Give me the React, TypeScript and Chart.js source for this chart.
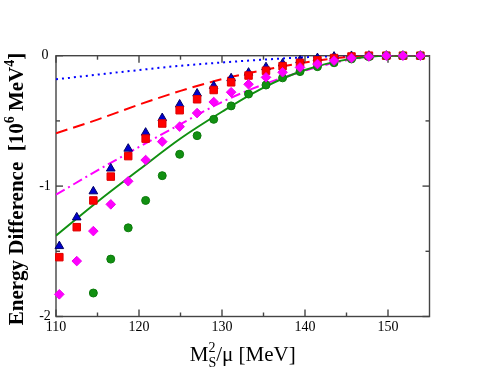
import React, { useEffect, useRef } from 'react';
import { Chart, registerables } from 'chart.js';

Chart.register(...registerables);

// ---- axis setup ----
const xMin = 110;
const xMax = 155;
const yMin = -2;
const yMax = 0;
const xMajorTicks = [110, 120, 130, 140, 150];
const xMinorTicks = [115, 125, 135, 145];
const yMajorTicks = [0, -1, -2];
const yMinorTicks = [-0.5, -1.5];
const xTickLabels = ['110', '120', '130', '140', '150'];
const yTickLabels = ['0', '-1', '-2'];

// ---- curves ----
const curveX = [110, 115, 120, 125, 130, 135, 140, 145, 150, 155];
const blueDotted = [-0.181, -0.145, -0.11, -0.077, -0.052, -0.03, -0.012, -0.002, 0, 0];
const redDashed = [-0.595, -0.49, -0.375, -0.27, -0.18, -0.11, -0.052, -0.012, 0, 0];
const magentaDashDot = [-1.065, -0.88, -0.7, -0.525, -0.355, -0.22, -0.115, -0.035, 0, 0];
const greenSolid = [-1.38, -1.12, -0.875, -0.635, -0.43, -0.245, -0.11, -0.03, 0, 0];

// ---- symbols ----
const pointX = [110.4, 112.5, 114.5, 116.6, 118.7, 120.8, 122.8, 124.9, 127.0, 129.0, 131.1,
  133.2, 135.3, 137.3, 139.4, 141.5, 143.5, 145.6, 147.7, 149.8, 151.8, 153.9];
const blueTriangles = [-1.46, -1.24, -1.04, -0.865, -0.713, -0.59, -0.478, -0.374, -0.29, -0.232, -0.173,
  -0.13, -0.088, -0.06, -0.035, -0.018, -0.007, -0.002, 0, 0, 0, 0];
const redSquares = [-1.545, -1.315, -1.11, -0.927, -0.77, -0.636, -0.52, -0.418, -0.334, -0.263, -0.204,
  -0.152, -0.115, -0.08, -0.055, -0.035, -0.018, -0.006, 0, 0, 0, 0];
const magentaDiamonds = [-1.83, -1.575, -1.345, -1.14, -0.963, -0.8, -0.659, -0.544, -0.44, -0.355, -0.28,
  -0.219, -0.166, -0.127, -0.09, -0.064, -0.038, -0.018, -0.006, 0, 0, 0];
const greenCircles = [null, null, -1.82, -1.56, -1.32, -1.11, -0.92, -0.756, -0.613, -0.488, -0.385,
  -0.294, -0.225, -0.17, -0.122, -0.084, -0.054, -0.025, -0.008, 0, 0, 0];

const SERIF = '"Liberation Serif", "Times New Roman", serif';

const toXY = (xs: number[], ys: (number | null)[]) =>
  xs.map((x, i) => ({ x, y: ys[i] })).filter((p) => p.y !== null);

type Seg = { t: string; size: number; dy: number; bold?: boolean; stackWithNext?: boolean };

function drawSegments(ctx: CanvasRenderingContext2D, segs: Seg[], cx: number, baseY: number) {
  // measure
  const widths: number[] = [];
  segs.forEach((s) => {
    ctx.font = `${s.bold ? 'bold ' : ''}${s.size}px ${SERIF}`;
    widths.push(ctx.measureText(s.t).width);
  });
  let total = 0;
  for (let i = 0; i < segs.length; i++) {
    if (segs[i].stackWithNext) {
      total += Math.max(widths[i], widths[i + 1]);
      i++;
    } else total += widths[i];
  }
  let x = cx - total / 2;
  ctx.textAlign = 'left';
  ctx.textBaseline = 'alphabetic';
  for (let i = 0; i < segs.length; i++) {
    const s = segs[i];
    ctx.font = `${s.bold ? 'bold ' : ''}${s.size}px ${SERIF}`;
    ctx.fillText(s.t, x, baseY + s.dy);
    if (s.stackWithNext) {
      const n = segs[i + 1];
      ctx.font = `${n.bold ? 'bold ' : ''}${n.size}px ${SERIF}`;
      ctx.fillText(n.t, x, baseY + n.dy);
      x += Math.max(widths[i], widths[i + 1]);
      i++;
    } else {
      x += widths[i];
    }
  }
}

const framePlugin = {
  id: 'frameTicks',
  beforeDatasetsDraw(chart: any) {
    const { ctx, chartArea: a, scales } = chart;
    const xs = scales.x;
    const ys = scales.y;
    ctx.save();
    ctx.strokeStyle = '#444';
    ctx.lineWidth = 1.4;
    ctx.strokeRect(a.left, a.top, a.right - a.left, a.bottom - a.top);
    const seg = (x1: number, y1: number, x2: number, y2: number) => {
      ctx.beginPath();
      ctx.moveTo(x1, y1);
      ctx.lineTo(x2, y2);
      ctx.stroke();
    };
    const major = 7;
    const minor = 4;
    xMajorTicks.forEach((v) => {
      const p = xs.getPixelForValue(v);
      seg(p, a.bottom, p, a.bottom - major);
      seg(p, a.top, p, a.top + major);
    });
    xMinorTicks.forEach((v) => {
      const p = xs.getPixelForValue(v);
      seg(p, a.bottom, p, a.bottom - minor);
      seg(p, a.top, p, a.top + minor);
    });
    yMajorTicks.forEach((v) => {
      const p = ys.getPixelForValue(v);
      seg(a.left, p, a.left + major, p);
      seg(a.right, p, a.right - major, p);
    });
    yMinorTicks.forEach((v) => {
      const p = ys.getPixelForValue(v);
      seg(a.left, p, a.left + minor, p);
      seg(a.right, p, a.right - minor, p);
    });

    // tick labels
    ctx.fillStyle = '#000';
    ctx.font = `14px ${SERIF}`;
    ctx.textAlign = 'center';
    ctx.textBaseline = 'middle';
    xMajorTicks.forEach((v, i) => {
      ctx.fillText(xTickLabels[i], xs.getPixelForValue(v), a.bottom + 11);
    });
    yMajorTicks.forEach((v, i) => {
      ctx.fillText(yTickLabels[i], a.left - 11, ys.getPixelForValue(v));
    });

    // x title: M_S^2/μ [MeV]
    const cx = (a.left + a.right) / 2;
    drawSegments(
      ctx,
      [
        { t: 'M', size: 21, dy: 0 },
        { t: 'S', size: 14, dy: 6, stackWithNext: true },
        { t: '2', size: 14, dy: -9 },
        { t: '/\u03bc [MeV]', size: 21, dy: 0 },
      ],
      cx,
      361
    );

    // y title (rotated)
    ctx.save();
    ctx.translate(23, 189);
    ctx.rotate(-Math.PI / 2);
    drawSegments(
      ctx,
      [
        { t: 'Energy Difference  [10', size: 21, dy: 0, bold: true },
        { t: '6', size: 14, dy: -9, bold: true },
        { t: ' MeV', size: 21, dy: 0, bold: true },
        { t: '4', size: 14, dy: -9, bold: true },
        { t: ']', size: 21, dy: 0, bold: true },
      ],
      0,
      0
    );
    ctx.restore();
    ctx.restore();
  },
};

export default function App() {
  const ref = useRef<HTMLCanvasElement | null>(null);
  useEffect(() => {
    if (!ref.current) return;
    const lineDs = (data: number[], color: string, dash: number[], order: number) => ({
      data: toXY(curveX, data),
      showLine: true,
      borderColor: color,
      backgroundColor: color,
      borderWidth: 2,
      borderDash: dash,
      pointRadius: 0,
      cubicInterpolationMode: 'monotone' as const,
      order,
    });
    const pointDs = (data: (number | null)[], style: string, fill: string, edge: string, radius: number, order: number) => ({
      data: toXY(pointX, data),
      showLine: false,
      pointStyle: style,
      pointRadius: radius,
      pointBackgroundColor: fill,
      pointBorderColor: edge,
      pointBorderWidth: 1,
      clip: false as any,
      order,
    });
    const chart = new Chart(ref.current, {
      type: 'scatter',
      data: {
        datasets: [
          lineDs(blueDotted, '#0000ff', [2, 4], 8),
          lineDs(redDashed, '#ff0000', [12, 6], 7),
          lineDs(magentaDashDot, '#ff00ff', [10, 4, 2, 4], 6),
          lineDs(greenSolid, '#119011', [], 5),
          pointDs(blueTriangles, 'triangle', '#0000cc', '#000066', 5, 4),
          pointDs(redSquares, 'rect', '#ff0000', '#dd0000', 5.3, 3),
          pointDs(greenCircles, 'circle', '#119011', '#0c7a0c', 4, 2),
          pointDs(magentaDiamonds, 'rectRot', '#ff00ff', '#ee00ee', 4.8, 1),
        ] as any,
      },
      options: {
        responsive: false,
        animation: false,
        events: [],
        layout: { padding: { left: 56, right: 54.5, top: 55.7, bottom: 57.5 } },
        plugins: { legend: { display: false }, tooltip: { enabled: false } },
        scales: {
          x: { type: 'linear', min: xMin, max: xMax, display: false },
          y: { type: 'linear', min: yMin, max: yMax, display: false },
        },
      },
      plugins: [framePlugin],
    });
    return () => chart.destroy();
  }, []);
  return (
    <div style={{ position: 'fixed', left: 0, top: 0, width: 484, height: 374, background: '#fff' }}>
      <canvas ref={ref} width={484} height={374} style={{ width: 484, height: 374 }} />
    </div>
  );
}
